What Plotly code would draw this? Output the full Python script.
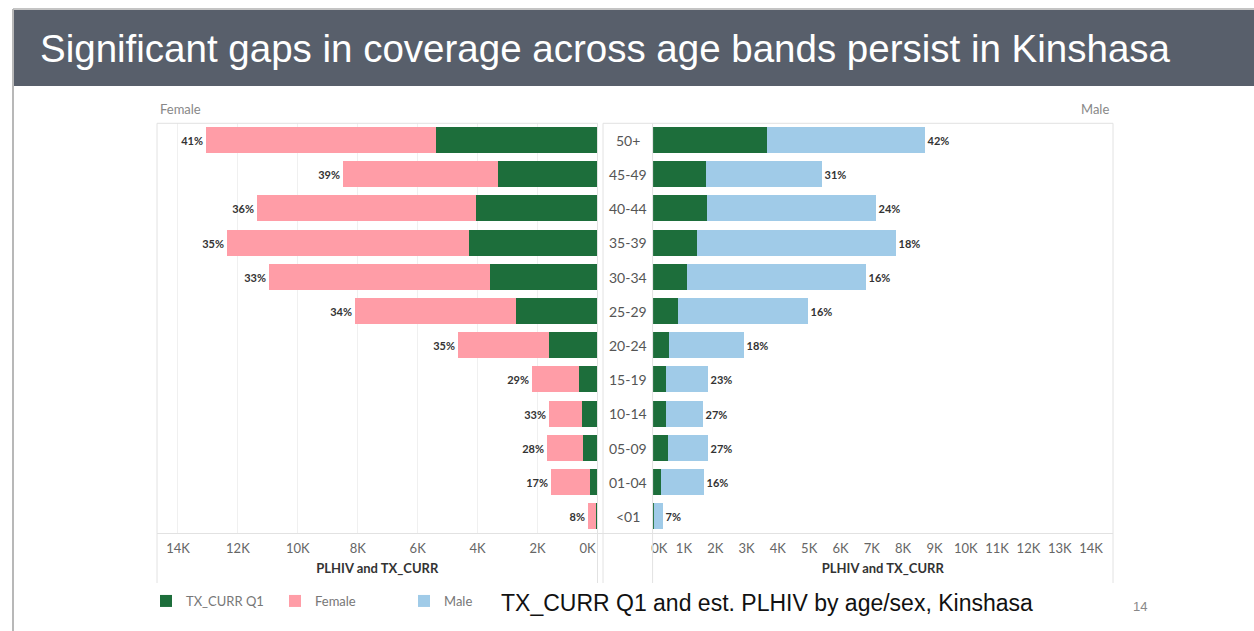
import plotly.graph_objects as go

# Age bands, top to bottom
age_bands = ["50+", "45-49", "40-44", "35-39", "30-34", "25-29",
             "20-24", "15-19", "10-14", "05-09", "01-04", "<01"]

# Estimated PLHIV and TX_CURR Q1, by sex
female_plhiv = [13080, 8500, 11360, 12360, 10960, 8080, 4670, 2170, 1610, 1700, 1540, 330]
female_tx = [5390, 3330, 4050, 4300, 3600, 2720, 1630, 630, 530, 480, 260, 27]
male_plhiv = [8670, 5400, 7110, 7760, 6810, 4950, 2900, 1740, 1600, 1740, 1620, 330]
male_tx = [3640, 1700, 1710, 1400, 1070, 800, 520, 400, 430, 470, 260, 23]

# Axis ticks and labels
left_ticks = [0, 2000, 4000, 6000, 8000, 10000, 12000, 14000]
left_tick_labels = ["0K", "2K", "4K", "6K", "8K", "10K", "12K", "14K"]
right_ticks = [0, 1000, 2000, 3000, 4000, 5000, 6000, 7000,
               8000, 9000, 10000, 11000, 12000, 13000, 14000]
right_tick_labels = ["0K", "1K", "2K", "3K", "4K", "5K", "6K", "7K",
                     "8K", "9K", "10K", "11K", "12K", "13K", "14K"]
grid_ticks = [0, 2000, 4000, 6000, 8000, 10000, 12000, 14000]

# Coverage labels (TX_CURR / PLHIV)
female_pct = [f"{round(100 * t / p)}%" for t, p in zip(female_tx, female_plhiv)]
male_pct = [f"{round(100 * t / p)}%" for t, p in zip(male_tx, male_plhiv)]

W, H = 1254, 631
GREEN = "#1d6e3b"
PINK = "#ff9da7"
BLUE = "#a0cbe8"
FRAME = "#e2e2e2"
GRID = "#f0f0f0"
CHART_FONT = "Lato"


def px(x):
    return x / W


def py(y):
    return 1 - y / H


# edge tick labels are nudged inward, as the source tool does
left_tick_labels[0] = left_tick_labels[0] + "\u00a0" * 6
right_tick_labels[0] = "\u00a0" * 4 + right_tick_labels[0]

pct_font = dict(family=CHART_FONT, size=11, color="#333333", weight="bold")
bar_w = 0.76

fig = go.Figure()
fig.add_trace(go.Bar(
    y=age_bands, x=female_plhiv, orientation="h", name="Female",
    marker=dict(color=PINK, line=dict(width=0)), width=bar_w,
    text=female_pct, textposition="outside", textfont=pct_font,
    cliponaxis=False, constraintext="none", legendrank=2,
    xaxis="x", yaxis="y"))
fig.add_trace(go.Bar(
    y=age_bands, x=female_tx, orientation="h", name="TX_CURR Q1",
    marker=dict(color=GREEN, line=dict(width=0)), width=bar_w,
    legendgroup="tx", legendrank=1, xaxis="x", yaxis="y"))
fig.add_trace(go.Bar(
    y=age_bands, x=male_plhiv, orientation="h", name="Male",
    marker=dict(color=BLUE, line=dict(width=0)), width=bar_w,
    text=male_pct, textposition="outside", textfont=pct_font,
    cliponaxis=False, constraintext="none", legendrank=3,
    xaxis="x2", yaxis="y2"))
fig.add_trace(go.Bar(
    y=age_bands, x=male_tx, orientation="h", name="TX_CURR Q1",
    marker=dict(color=GREEN, line=dict(width=0)), width=bar_w,
    legendgroup="tx", showlegend=False, xaxis="x2", yaxis="y2"))

tick_font = dict(family=CHART_FONT, size=13, color="#666666")
axis_title = dict(text="PLHIV and TX_CURR",
                  font=dict(family=CHART_FONT, size=13, color="#333333", weight="bold"),
                  standoff=9)
y_dom = [py(533.5), py(123.3)]

fig.update_layout(
    width=W, height=H, autosize=False,
    margin=dict(l=0, r=0, t=0, b=0),
    paper_bgcolor="white", plot_bgcolor="white",
    barmode="overlay", bargap=0,
    xaxis=dict(domain=[px(157), px(597.5)], range=[14700, 0],
               tickvals=left_ticks, ticktext=left_tick_labels,
               showgrid=True, gridcolor=GRID, gridwidth=1, zeroline=False,
               showline=False, ticks="", tickfont=tick_font, ticklabelstandoff=5,
               title=axis_title, anchor="y", automargin=False),
    yaxis=dict(domain=y_dom, type="category", categoryarray=age_bands,
               range=[11.5, -0.5], showticklabels=False, showgrid=False,
               zeroline=False, anchor="x", automargin=False),
    xaxis2=dict(domain=[px(652.6), px(1113)], range=[0, 14700],
                tickvals=right_ticks, ticktext=right_tick_labels,
                showgrid=False, zeroline=False, showline=False, ticks="",
                tickfont=tick_font, ticklabelstandoff=5, title=axis_title,
                anchor="y2", automargin=False),
    xaxis3=dict(overlaying="x2", range=[0, 14700], tickvals=grid_ticks,
                showticklabels=False, showgrid=True, gridcolor=GRID,
                zeroline=False, showline=False, ticks="", anchor="y2",
                layer="below traces", automargin=False),
    yaxis2=dict(domain=y_dom, type="category", categoryarray=age_bands,
                range=[11.5, -0.5], showticklabels=False, showgrid=False,
                zeroline=False, anchor="x2", automargin=False),
    legend=dict(orientation="h", x=px(146), y=py(586), xanchor="left",
                yanchor="top", entrywidth=84, entrywidthmode="pixels",
                itemwidth=30, traceorder="normal",
                font=dict(family=CHART_FONT, size=13, color="#777777"),
                bgcolor="rgba(0,0,0,0)"),
    showlegend=True,
)

# panel frames and divider lines
shapes = [
    # title band and page border
    dict(type="rect", xref="paper", yref="paper", x0=px(14), x1=1, y0=py(86), y1=py(10),
         fillcolor="#585f6b", line=dict(width=0), layer="below"),
    dict(type="line", xref="paper", yref="paper", x0=px(13), x1=1, y0=py(9), y1=py(9),
         line=dict(color="#c4c4c4", width=2)),
    dict(type="line", xref="paper", yref="paper", x0=px(13), x1=px(13), y0=py(9), y1=0,
         line=dict(color="#b8b8b8", width=2)),
]
for x0, x1 in [(157, 597.5), (603, 1113)]:
    shapes.append(dict(type="line", xref="paper", yref="paper", x0=px(x0), x1=px(x1),
                       y0=py(123.3), y1=py(123.3), line=dict(color=FRAME, width=1)))
shapes.append(dict(type="line", xref="paper", yref="paper", x0=px(157), x1=px(1113),
                   y0=py(533.5), y1=py(533.5), line=dict(color=FRAME, width=1)))
for xv in [157, 597.5, 603, 1113]:
    shapes.append(dict(type="line", xref="paper", yref="paper", x0=px(xv), x1=px(xv),
                       y0=py(123.3), y1=py(583), line=dict(color=FRAME, width=1)))
shapes.append(dict(type="line", xref="paper", yref="paper", x0=px(652.6), x1=px(652.6),
                   y0=py(123.3), y1=py(583), line=dict(color=FRAME, width=1)))
fig.update_layout(shapes=shapes)

annotations = [
    dict(text="Significant gaps in coverage across age bands persist in Kinshasa",
         x=px(38), y=py(48), xref="paper", yref="paper", xanchor="left", yanchor="middle",
         showarrow=False, font=dict(family="Liberation Sans", size=38.5, color="white")),
    dict(text="Female", x=px(158), y=py(109), xref="paper", yref="paper",
         xanchor="left", yanchor="middle", showarrow=False,
         font=dict(family=CHART_FONT, size=13, color="#888888")),
    dict(text="Male", x=px(1111), y=py(109), xref="paper", yref="paper",
         xanchor="right", yanchor="middle", showarrow=False,
         font=dict(family=CHART_FONT, size=13, color="#888888")),
    dict(text="TX_CURR Q1 and est. PLHIV by age/sex, Kinshasa",
         x=px(767), y=py(603), xref="paper", yref="paper", xanchor="center",
         yanchor="middle", showarrow=False,
         font=dict(family="Liberation Sans", size=23, color="#111111")),
    dict(text="14", x=px(1140), y=py(606), xref="paper", yref="paper",
         xanchor="center", yanchor="middle", showarrow=False,
         font=dict(family="Liberation Sans", size=13, color="#888888")),
]
for band in age_bands:
    annotations.append(dict(text=band, x=px(627.5), y=band, xref="paper", yref="y",
                            xanchor="center", yanchor="middle", showarrow=False,
                            font=dict(family=CHART_FONT, size=14, color="#555555")))
fig.update_layout(annotations=annotations)

fig.write_html("out.html")
